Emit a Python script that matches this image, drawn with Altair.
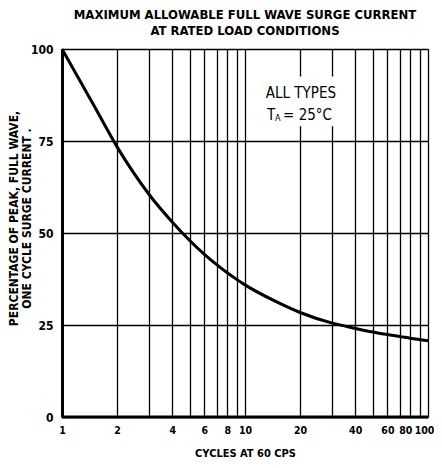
import altair as alt
import pandas as pd

# Curve
cycles = [1, 1.5, 2, 3, 4, 5, 6, 7, 8, 9, 10, 15, 20, 30, 40, 50, 60, 70, 80, 100]
percent = [100, 84.5, 73.4, 60.4, 53.0, 47.9, 44.2, 41.4, 39.2, 37.4, 35.9,
           31.2, 28.4, 25.5, 24.1, 23.1, 22.4, 21.9, 21.4, 20.7]

x_grid = [1, 2, 3, 4, 5, 6, 7, 8, 9, 10, 20, 30, 40, 50, 60, 70, 80, 90, 100]
x_labels = [1, 2, 4, 6, 8, 10, 20, 40, 60, 80, 100]
y_ticks = [0, 25, 50, 75, 100]

title_lines = ["MAXIMUM ALLOWABLE FULL WAVE SURGE CURRENT", "AT RATED LOAD CONDITIONS"]
y_title = ["PERCENTAGE OF PEAK, FULL WAVE,", "ONE CYCLE  SURGE CURRENT  ."]
x_title = "CYCLES AT 60 CPS"

# annotation box
box = {"x": [12.6], "x2": [36.0], "y": [79.0], "y2": [92.5]}
note_text = ["ALL TYPES", "T", "A", "= 25°C"]
note_x = [20.2, 13.2, 13.2, 13.2]
note_y = [88.0, 82.1, 82.1, 82.1]
note_dx = [0, 0, 8, 16]
note_dy = [0, 0, 3, 0]
note_size = [15, 15, 9, 15]
note_align = ["center", "left", "left", "left"]

FONT = "DejaVu Sans Condensed, Liberation Sans Narrow, sans-serif"

df = pd.DataFrame({"cycles": cycles, "percent": percent})
notes = pd.DataFrame({"text": note_text, "x": note_x, "y": note_y, "dx": note_dx,
                      "dy": note_dy, "size": note_size, "align": note_align})

label_list = ",".join(str(v) for v in x_labels)
xscale = alt.Scale(type="log", domain=[1, 100])
yscale = alt.Scale(domain=[0, 100])

x_axis = alt.Axis(
    values=x_grid, grid=True, gridColor="black", gridWidth=1.3, gridOpacity=1,
    ticks=False, domain=False,
    labelExpr=f"indexof([{label_list}], datum.value) >= 0 ? format(datum.value, 'd') : ''",
    labelFlush=False, labelOverlap=False, labelPadding=8,
    labelOffset={"expr": "datum.value == 100 ? -4 : (datum.value == 80 ? -5 : 0)"},
    labelFont=FONT, labelFontSize=10.5, labelFontWeight="bold", labelColor="black",
    title=x_title, titleFont=FONT, titleFontSize=11, titleFontWeight="bold",
    titleColor="black", titlePadding=12,
)
y_axis = alt.Axis(
    values=y_ticks, grid=True, gridColor="black", gridWidth=1.3, gridOpacity=1,
    ticks=False, domain=True, domainColor="black", domainWidth=3,
    labelPadding=9, labelFont=FONT, labelFontSize=12, labelFontWeight="bold",
    labelColor="black",
    title=y_title, titleFont=FONT, titleFontSize=12, titleFontWeight="bold",
    titleColor="black", titleAngle=-90, titleX=-42, titleY=169,
    titleBaseline="bottom", titleLineHeight=13, titleAlign="center",
)

base = alt.Chart(df)

bottom = base.mark_rule(color="black", strokeWidth=3).encode(
    x=alt.X("min(cycles):Q", scale=xscale, axis=x_axis),
    x2="max(cycles):Q",
    y=alt.datum(0, scale=yscale, axis=y_axis),
)

curve = base.mark_line(color="black", strokeWidth=3, interpolate="monotone").encode(
    x=alt.X("cycles:Q", scale=xscale),
    y=alt.Y("percent:Q", scale=yscale),
)

rect = alt.Chart(pd.DataFrame(box)).mark_rect(color="white").encode(
    x=alt.X("x:Q", scale=xscale), x2="x2:Q",
    y=alt.Y("y:Q", scale=yscale), y2="y2:Q",
)

texts = []
for i in range(len(note_text)):
    sub = notes.iloc[[i]]
    texts.append(
        alt.Chart(sub).mark_text(
            font=FONT, fontSize=note_size[i], color="black", align=note_align[i],
            baseline="middle", dx=note_dx[i], dy=note_dy[i],
        ).encode(
            x=alt.X("x:Q", scale=xscale),
            y=alt.Y("y:Q", scale=yscale),
            text="text:N",
        )
    )

chart = alt.layer(bottom, rect, curve, *texts).properties(
    width=366, height=368,
    autosize=alt.AutoSizeParams(type="none"),
    padding={"left": 54, "top": 41, "right": 6, "bottom": 43},
    title=alt.Title(title_lines, font=FONT, fontSize=13, fontWeight="bold",
                    color="black", anchor="middle", offset=5, lineHeight=16),
).configure_view(strokeWidth=0).configure(background="white")

chart.save("out.html", embed_options={"renderer": "svg", "actions": False})
